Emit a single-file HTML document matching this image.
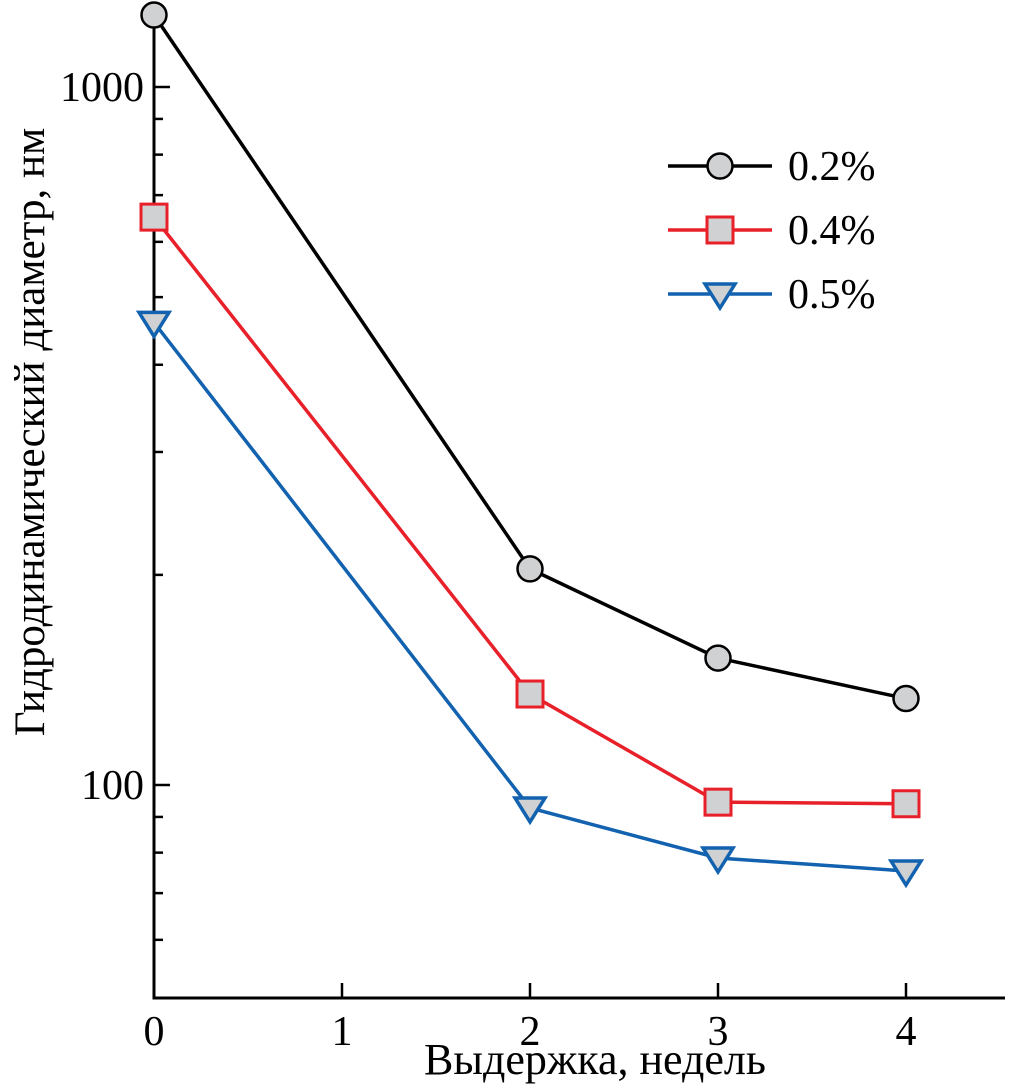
<!DOCTYPE html>
<html><head><meta charset="utf-8"><style>
body{margin:0;background:#fff}
svg text{font-family:"Liberation Serif",serif;fill:#000}
</style></head><body>
<svg id="c" width="1010" height="1084" xmlns="http://www.w3.org/2000/svg"></svg>
<script>
const weeks=[0,2,3,4];
const s02=[1268,204,152,133];
const s04=[651,135,94.5,94];
const s05=[460,92.7,78.6,75.3];
const seriesNames=["0.2%","0.4%","0.5%"];
const xTicks=[0,1,2,3,4];
const yMajor=[100,1000];
const yMinor=[60,70,80,90,200,300,400,500,600,700,800,900];

const NS="http://www.w3.org/2000/svg";
const svg=document.getElementById('c');
const X0=154,XS=188,Y100=785,DEC=698,YB=998;
const xp=v=>X0+v*XS;
const yp=v=>Y100-(Math.log10(v)-2)*DEC;
function el(t,a,p){const e=document.createElementNS(NS,t);for(const k in a)e.setAttribute(k,a[k]);(p||svg).appendChild(e);return e;}

const ax=el('g',{});


el('line',{x1:X0,y1:28,x2:X0,y2:YB+1.5,stroke:'#000','stroke-width':3},ax);
el('line',{x1:X0-1.5,y1:YB,x2:1005,y2:YB,stroke:'#000','stroke-width':3},ax);
xTicks.forEach(t=>{
  if(t>0){const l=el('line',{x1:xp(t),y1:YB,x2:xp(t),y2:YB-15,stroke:'#000','stroke-width':2.5},ax);
  }
  const tx=el('text',{x:xp(t),y:1045,'font-size':42,'text-anchor':'middle'},ax);
  tx.textContent=t;
  
  
});
yMajor.forEach(v=>{
  el('line',{x1:X0,y1:yp(v),x2:X0+16,y2:yp(v),stroke:'#000','stroke-width':2.5},ax);
  const tx=el('text',{x:X0-10,y:yp(v)+14,'font-size':42,'text-anchor':'end'},ax);
  tx.textContent=v;
  
  
});
yMinor.forEach(v=>{
  const l=el('line',{x1:X0,y1:yp(v),x2:X0+9,y2:yp(v),stroke:'#000','stroke-width':2.5},ax);
  
  
});
const xt=el('text',{x:595,y:1074,'font-size':44,'text-anchor':'middle'});
xt.textContent='Выдержка, недель';


const yt=el('text',{x:0,y:0,'font-size':43,'text-anchor':'middle',transform:'translate(44,432) rotate(-90)'});
yt.textContent='Гидродинамический диаметр, нм';



function marker(type,x,y,col,g){
  if(type==='circle')return el('circle',{cx:x,cy:y,r:12.5,fill:'#d0d1d3',stroke:col,'stroke-width':2.5},g);
  if(type==='square')return el('rect',{x:x-13,y:y-13,width:26,height:26,fill:'#d0d1d3',stroke:col,'stroke-width':3},g);
  return el('polygon',{points:`${x-15},${y-10} ${x+15},${y-10} ${x},${y+14}`,fill:'#d0d1d3',stroke:col,'stroke-width':3.5,'stroke-linejoin':'miter'},g);
}
const series=[[s02,'#000','circle','series-0-2'],[s04,'#e8202a','square','series-0-4'],[s05,'#1262b0','triangle','series-0-5']];
series.forEach((s,i)=>{
  const g=el('g',{});
  
  
  el('polyline',{points:weeks.map((w,j)=>xp(w)+','+yp(s[0][j])).join(' '),fill:'none',stroke:s[1],'stroke-width':3.5},g);
  weeks.forEach((w,j)=>{
    const m=marker(s[2],xp(w),yp(s[0][j]),s[1],g);
    
    
  });
  const lg=el('g',{});
  
  
  const ly=166+i*64;
  el('line',{x1:668,y1:ly,x2:772,y2:ly,stroke:s[1],'stroke-width':3.5},lg);
  marker(s[2],720,ly,s[1],lg);
  const t=el('text',{x:788,y:ly+14,'font-size':42},lg);
  t.textContent=seriesNames[i];
});
</script>
</body></html>
